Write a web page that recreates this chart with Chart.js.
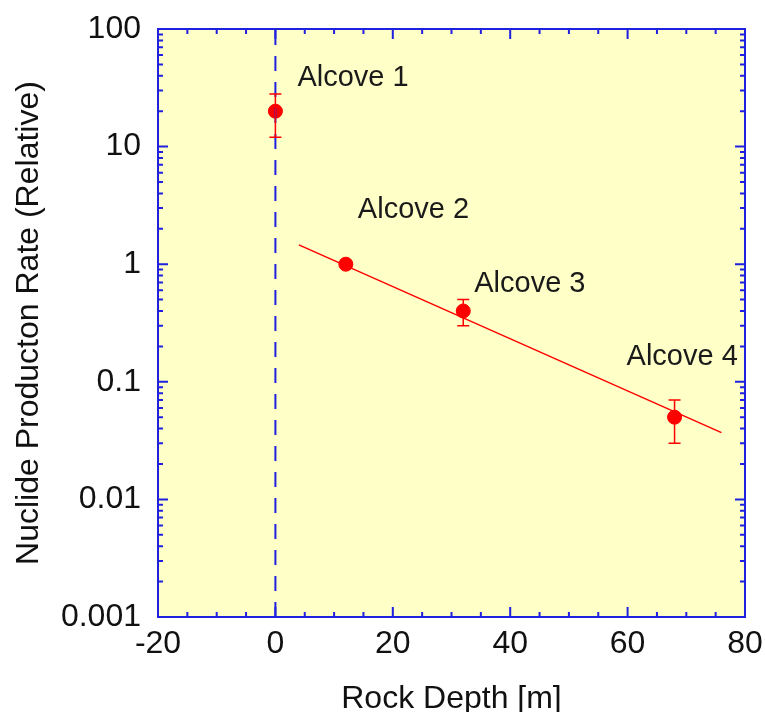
<!DOCTYPE html>
<html>
<head>
<meta charset="utf-8">
<title>Nuclide Production Rate vs Rock Depth</title>
<script src="https://cdn.jsdelivr.net/npm/chart.js@4.4.1/dist/chart.umd.min.js"></script>
<style>
  html, body { margin: 0; padding: 0; background: #ffffff; overflow: hidden; }
  #wrap { width: 765px; height: 712px; }
</style>
</head>
<body>
<div id="wrap"><canvas id="chart" width="765" height="712"></canvas></div>
<script>
// -------------------------------
// Data
// -------------------------------
const alcoveNames = ["Alcove 1", "Alcove 2", "Alcove 3", "Alcove 4"];
const depths = [0, 12, 32, 68];
const rates = [20, 1, 0.4, 0.05];
const errLow = [12, 1, 0.3, 0.03];
const errHigh = [28, 1, 0.5, 0.07];

// exponential fit line end points
const fitDepths = [4, 76];
const fitRates = [1.46, 0.037];

// surface marker (vertical dashed line at depth 0)
const surfaceDepth = [0, 0];
const surfaceRates = [0.001, 100];

const xTickValues = [-20, 0, 20, 40, 60, 80];
const yTickLabels = ["0.001", "0.01", "0.1", "1", "10", "100"];

// -------------------------------
// Styles
// -------------------------------
const AXIS_BLUE = "#2020e0";
const RED = "#ff0000";
const FONT = "'Liberation Sans', Arial, sans-serif";
const labelOffsets = [[22, -33], [12, -54], [11, -27], [-48, -60]];

// plot background, frame, inside ticks
const framePlugin = {
  id: "frame",
  beforeDraw(chart) {
    const { ctx, chartArea: a } = chart;
    ctx.save();
    ctx.fillStyle = "#ffffc8";
    ctx.fillRect(a.left, a.top, a.right - a.left, a.bottom - a.top);
    ctx.restore();
  },
  afterDraw(chart) {
    const { ctx, chartArea: a, scales } = chart;
    const xs = scales.x, ys = scales.y;
    ctx.save();
    ctx.strokeStyle = AXIS_BLUE;
    ctx.lineWidth = 2;
    ctx.beginPath();
    // x ticks every 5, major every 20
    for (let v = -20; v <= 80; v += 5) {
      const px = xs.getPixelForValue(v);
      const len = v % 20 === 0 ? 10 : 5;
      ctx.moveTo(px, a.bottom); ctx.lineTo(px, a.bottom - len);
      ctx.moveTo(px, a.top); ctx.lineTo(px, a.top + len);
    }
    // log y ticks
    for (let e = -3; e <= 2; e++) {
      for (let m = 1; m <= 9; m++) {
        if (e === 2 && m > 1) break;
        const py = ys.getPixelForValue(m * Math.pow(10, e));
        const len = m === 1 ? 10 : 5;
        ctx.moveTo(a.left, py); ctx.lineTo(a.left + len, py);
        ctx.moveTo(a.right, py); ctx.lineTo(a.right - len, py);
      }
    }
    ctx.stroke();
    ctx.strokeRect(a.left, a.top, a.right - a.left, a.bottom - a.top);
    ctx.restore();
  }
};

// error bars + alcove labels
const errorBarPlugin = {
  id: "errorBars",
  afterDatasetsDraw(chart) {
    const { ctx, scales } = chart;
    const xs = scales.x, ys = scales.y;
    ctx.save();
    ctx.strokeStyle = RED;
    ctx.lineWidth = 1.5;
    depths.forEach((d, i) => {
      if (errLow[i] === errHigh[i]) return;
      const px = xs.getPixelForValue(d);
      const pLo = ys.getPixelForValue(errLow[i]);
      const pHi = ys.getPixelForValue(errHigh[i]);
      ctx.beginPath();
      ctx.moveTo(px, pLo); ctx.lineTo(px, pHi);
      ctx.moveTo(px - 6, pLo); ctx.lineTo(px + 6, pLo);
      ctx.moveTo(px - 6, pHi); ctx.lineTo(px + 6, pHi);
      ctx.stroke();
    });
    ctx.fillStyle = "#1a1a1a";
    ctx.font = "29px " + FONT;
    ctx.textBaseline = "middle";
    ctx.textAlign = "left";
    alcoveNames.forEach((name, i) => {
      const px = xs.getPixelForValue(depths[i]);
      const py = ys.getPixelForValue(rates[i]);
      ctx.fillText(name, px + labelOffsets[i][0], py + labelOffsets[i][1]);
    });
    ctx.restore();
  }
};

function toPoints(xArr, yArr) {
  return xArr.map((x, i) => ({ x: x, y: yArr[i] }));
}

new Chart(document.getElementById("chart"), {
  type: "scatter",
  data: {
    datasets: [
      {
        label: "Surface",
        data: toPoints(surfaceDepth, surfaceRates),
        showLine: true,
        borderColor: AXIS_BLUE,
        borderWidth: 2,
        borderDash: [15, 11],
        pointRadius: 0
      },
      {
        label: "Fit",
        data: toPoints(fitDepths, fitRates),
        showLine: true,
        borderColor: RED,
        borderWidth: 1.5,
        pointRadius: 0
      },
      {
        label: "Alcoves",
        data: toPoints(depths, rates),
        backgroundColor: RED,
        borderColor: RED,
        pointRadius: 7,
        pointHoverRadius: 7
      }
    ]
  },
  options: {
    responsive: false,
    animation: false,
    layout: { padding: { top: 29, right: 20, left: 0, bottom: 0 } },
    plugins: {
      legend: { display: false },
      tooltip: { enabled: false }
    },
    scales: {
      x: {
        type: "linear",
        min: -20,
        max: 80,
        afterBuildTicks: scale => {
          scale.ticks = xTickValues.map(v => ({ value: v }));
        },
        afterFit: scale => {
          scale.height = 95;
          scale.paddingLeft = 0;
          scale.paddingRight = 0;
        },
        grid: { display: false, drawTicks: false },
        border: { display: false },
        ticks: {
          color: "#111111",
          padding: 8,
          maxRotation: 0,
          font: { family: FONT, size: 32 }
        },
        title: {
          display: true,
          text: "Rock Depth [m]",
          color: "#111111",
          padding: { top: 0, bottom: -6 },
          font: { family: FONT, size: 32 }
        }
      },
      y: {
        type: "logarithmic",
        min: 0.001,
        max: 100,
        afterBuildTicks: scale => {
          scale.ticks = yTickLabels.map(t => ({ value: parseFloat(t) }));
        },
        afterFit: scale => {
          scale.width = 158;
          scale.paddingTop = 0;
          scale.paddingBottom = 0;
        },
        grid: { display: false, drawTicks: false },
        border: { display: false },
        ticks: {
          color: "#111111",
          padding: 17,
          font: { family: FONT, size: 32 },
          callback: (value, index) => yTickLabels[index]
        },
        title: {
          display: true,
          text: "Nuclide Producton Rate (Relative)",
          color: "#111111",
          padding: { top: 10, bottom: 0 },
          font: { family: FONT, size: 32 }
        }
      }
    }
  },
  plugins: [framePlugin, errorBarPlugin]
});
</script>
</body>
</html>
